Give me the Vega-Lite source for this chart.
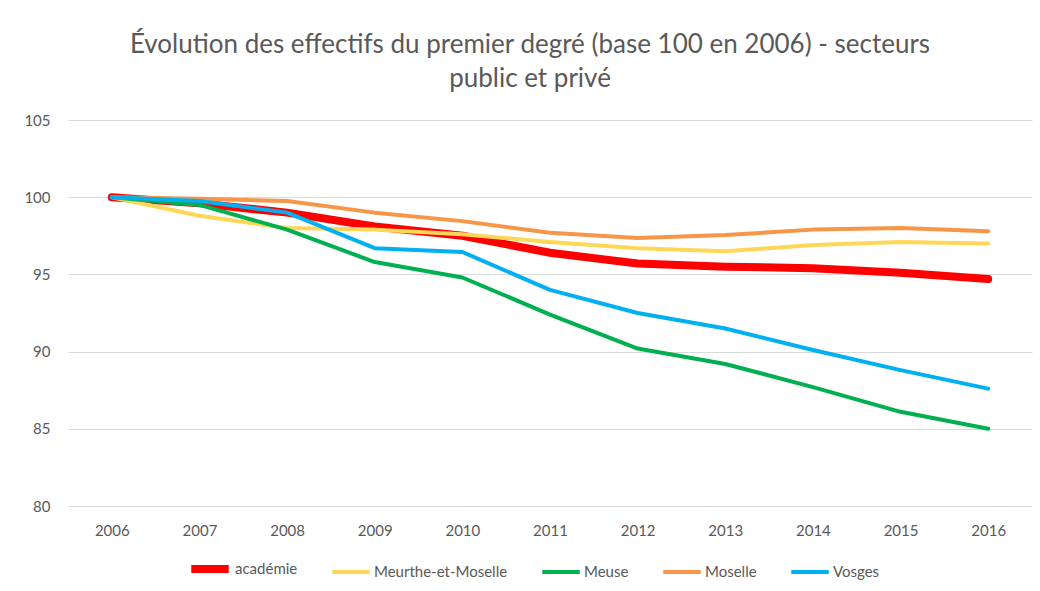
{
  "$schema": "https://vega.github.io/schema/vega-lite/v6.json",
  "width": 964,
  "height": 386,
  "autosize": {"type": "none"},
  "padding": {"left": 68, "top": 120, "right": 8, "bottom": 85},
  "background": "white",
  "title": {
    "text": ["Évolution des effectifs du premier degré (base 100 en 2006) - secteurs", "public et privé"],
    "font": "Lato",
    "fontSize": 26,
    "fontWeight": "normal",
    "color": "#595959",
    "anchor": "middle",
    "dx": -20,
    "offset": 21,
    "lineHeight": 34
  },
  "config": {
    "view": {"stroke": null},
    "font": "Lato",
    "axis": {"labelFont": "Lato", "labelFontSize": 15, "labelColor": "#595959"}
  },
  "data": {
    "values": [
      {"annee": "2006", "serie": "académie", "valeur": 100},
      {"annee": "2007", "serie": "académie", "valeur": 99.6},
      {"annee": "2008", "serie": "académie", "valeur": 99.0},
      {"annee": "2009", "serie": "académie", "valeur": 98.1},
      {"annee": "2010", "serie": "académie", "valeur": 97.5},
      {"annee": "2011", "serie": "académie", "valeur": 96.4},
      {"annee": "2012", "serie": "académie", "valeur": 95.7},
      {"annee": "2013", "serie": "académie", "valeur": 95.5},
      {"annee": "2014", "serie": "académie", "valeur": 95.4},
      {"annee": "2015", "serie": "académie", "valeur": 95.1},
      {"annee": "2016", "serie": "académie", "valeur": 94.7},
      {"annee": "2006", "serie": "Meurthe-et-Moselle", "valeur": 100},
      {"annee": "2007", "serie": "Meurthe-et-Moselle", "valeur": 98.8},
      {"annee": "2008", "serie": "Meurthe-et-Moselle", "valeur": 98.0},
      {"annee": "2009", "serie": "Meurthe-et-Moselle", "valeur": 97.9},
      {"annee": "2010", "serie": "Meurthe-et-Moselle", "valeur": 97.6},
      {"annee": "2011", "serie": "Meurthe-et-Moselle", "valeur": 97.1},
      {"annee": "2012", "serie": "Meurthe-et-Moselle", "valeur": 96.7},
      {"annee": "2013", "serie": "Meurthe-et-Moselle", "valeur": 96.5},
      {"annee": "2014", "serie": "Meurthe-et-Moselle", "valeur": 96.9},
      {"annee": "2015", "serie": "Meurthe-et-Moselle", "valeur": 97.1},
      {"annee": "2016", "serie": "Meurthe-et-Moselle", "valeur": 97.0},
      {"annee": "2006", "serie": "Meuse", "valeur": 100},
      {"annee": "2007", "serie": "Meuse", "valeur": 99.5},
      {"annee": "2008", "serie": "Meuse", "valeur": 97.9},
      {"annee": "2009", "serie": "Meuse", "valeur": 95.8},
      {"annee": "2010", "serie": "Meuse", "valeur": 94.8},
      {"annee": "2011", "serie": "Meuse", "valeur": 92.4},
      {"annee": "2012", "serie": "Meuse", "valeur": 90.2},
      {"annee": "2013", "serie": "Meuse", "valeur": 89.2},
      {"annee": "2014", "serie": "Meuse", "valeur": 87.7},
      {"annee": "2015", "serie": "Meuse", "valeur": 86.1},
      {"annee": "2016", "serie": "Meuse", "valeur": 85.0},
      {"annee": "2006", "serie": "Moselle", "valeur": 100},
      {"annee": "2007", "serie": "Moselle", "valeur": 99.9},
      {"annee": "2008", "serie": "Moselle", "valeur": 99.75},
      {"annee": "2009", "serie": "Moselle", "valeur": 99.0},
      {"annee": "2010", "serie": "Moselle", "valeur": 98.45},
      {"annee": "2011", "serie": "Moselle", "valeur": 97.7},
      {"annee": "2012", "serie": "Moselle", "valeur": 97.35},
      {"annee": "2013", "serie": "Moselle", "valeur": 97.55},
      {"annee": "2014", "serie": "Moselle", "valeur": 97.9},
      {"annee": "2015", "serie": "Moselle", "valeur": 98.0},
      {"annee": "2016", "serie": "Moselle", "valeur": 97.8},
      {"annee": "2006", "serie": "Vosges", "valeur": 100},
      {"annee": "2007", "serie": "Vosges", "valeur": 99.75},
      {"annee": "2008", "serie": "Vosges", "valeur": 99.0},
      {"annee": "2009", "serie": "Vosges", "valeur": 96.7},
      {"annee": "2010", "serie": "Vosges", "valeur": 96.45},
      {"annee": "2011", "serie": "Vosges", "valeur": 94.0},
      {"annee": "2012", "serie": "Vosges", "valeur": 92.5},
      {"annee": "2013", "serie": "Vosges", "valeur": 91.5},
      {"annee": "2014", "serie": "Vosges", "valeur": 90.1},
      {"annee": "2015", "serie": "Vosges", "valeur": 88.8},
      {"annee": "2016", "serie": "Vosges", "valeur": 87.6}
    ]
  },
  "mark": {"type": "line", "strokeCap": "round", "strokeJoin": "round"},
  "encoding": {
    "x": {
      "field": "annee",
      "type": "ordinal",
      "title": null,
      "scale": {"type": "point", "padding": 0.5},
      "axis": {"labelAngle": 0, "ticks": false, "domain": false, "grid": false, "labelPadding": 17}
    },
    "y": {
      "field": "valeur",
      "type": "quantitative",
      "title": null,
      "scale": {"domain": [80, 105], "nice": false, "zero": false},
      "axis": {"values": [80, 85, 90, 95, 100, 105], "ticks": false, "domain": false, "gridColor": "#d9d9d9", "gridWidth": 1, "labelPadding": 18}
    },
    "color": {
      "field": "serie",
      "type": "nominal",
      "scale": {
        "domain": ["académie", "Meurthe-et-Moselle", "Meuse", "Moselle", "Vosges"],
        "range": ["#FF0000", "#FFD757", "#00B050", "#F79646", "#00B0F0"]
      },
      "legend": {
        "title": null,
        "orient": "none",
        "direction": "horizontal",
        "legendX": 119,
        "legendY": 426,
        "symbolType": "stroke",
        "symbolSize": 1400,
        "labelFont": "Lato",
        "labelFontSize": 15,
        "labelColor": "#595959",
        "labelOffset": 2,
        "columnPadding": 26
      }
    },
    "strokeWidth": {
      "field": "serie",
      "type": "nominal",
      "scale": {
        "type": "ordinal",
        "domain": ["académie", "Meurthe-et-Moselle", "Meuse", "Moselle", "Vosges"],
        "range": [8, 4, 4, 4, 4]
      },
      "legend": {
        "title": null,
        "orient": "none",
        "direction": "horizontal",
        "legendX": 119,
        "legendY": 426,
        "symbolType": "stroke",
        "symbolSize": 1400,
        "labelFont": "Lato",
        "labelFontSize": 15,
        "labelColor": "#595959",
        "labelOffset": 2,
        "columnPadding": 26
      }
    }
  }
}
